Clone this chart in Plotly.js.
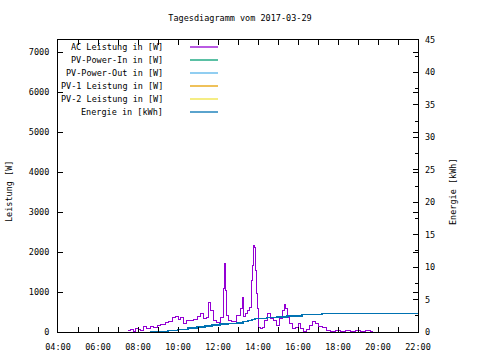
<!DOCTYPE html>
<html><head><meta charset="utf-8">
<script src="https://cdn.plot.ly/plotly-3.0.1.min.js"></script>
<style>body{margin:0;background:#fff}#c{width:480px;height:360px}
#c path.js-line{shape-rendering:crispEdges}</style>
</head><body><div id="c"></div>
<script>
const day = "2017-03-29";
const acTimes = ["07:30","07:36","07:45","07:51","08:00","08:06","08:15","08:24","08:36","08:45","08:57","09:06","09:21","09:30","09:42","09:51","10:00","10:06","10:15","10:24","10:36","10:45","10:57","11:06","11:15","11:24","11:30","11:36","11:45","11:54","12:06","12:15","12:18","12:21","12:24","12:30","12:39","12:54","13:06","13:12","13:15","13:21","13:27","13:33","13:39","13:42","13:45","13:48","13:51","13:54","13:57","14:00","14:06","14:12","14:18","14:27","14:36","14:45","14:54","15:03","15:12","15:18","15:21","15:27","15:33","15:42","15:51","16:00","16:06","16:15","16:24","16:33","16:42","16:51","17:00","17:12","17:24","17:36","17:51","18:06","18:21","18:36","18:51","19:06","19:21","19:36","19:42"];
const acWatts = [50,75,25,100,75,50,150,100,150,125,175,200,250,275,375,400,325,375,225,300,300,325,400,475,350,375,750,550,300,250,375,1100,1725,1050,425,300,275,425,600,875,400,475,550,625,1300,1675,2175,2125,1550,975,600,125,100,125,300,475,350,300,175,350,550,700,600,375,225,100,125,225,100,25,75,175,275,225,150,125,50,25,50,10,50,20,40,10,30,20,0];
const eTimes = ["08:36","09:30","10:00","10:30","10:57","11:21","11:42","12:06","12:30","12:57","13:15","13:30","13:42","13:51","14:27","14:57","15:27","16:12","17:12","22:00"];
const eKWh = [0,0.2,0.4,0.65,0.8,0.95,1.05,1.2,1.3,1.4,1.6,1.8,1.95,2.1,2.2,2.3,2.5,2.67,2.87,2.87];
const legendNames = ["AC Leistung in [W]","PV-Power-In in [W]","PV-Power-Out in [W]","PV-1 Leistung in [W]","PV-2 Leistung in [W]","Energie in [kWh]"];
const legendColors = ["#9400d3","#009e73","#56b4e9","#e69f00","#f0e442","#0072b2"];

const F = {family:"DejaVu Sans Mono, monospace", size:8.5, color:"#000"};
const ts = a => a.map(t => day + " " + t);

const traces = [
  {x: ts(acTimes), y: acWatts, type:"scatter", mode:"lines", line:{color:legendColors[0], width:1, shape:"hv"}, showlegend:false, hoverinfo:"skip"},
  {x: ts(eTimes), y: eKWh, type:"scatter", mode:"lines", yaxis:"y2", line:{color:legendColors[5], width:1.5, shape:"hv"}, showlegend:false, hoverinfo:"skip"}
];

const L = 58, T = 40, W = 360, H = 292;
const ann = [], shp = [];
legendNames.forEach((n,i) => {
  const yp = 47 + i*13;
  const py = (T + H - yp) / H;
  ann.push({xref:"paper", yref:"paper", x:(165-L)/W, y:py, xanchor:"right", yanchor:"middle", text:n, showarrow:false, font:F});
  shp.push({type:"line", xref:"paper", yref:"paper", x0:(190-L)/W, x1:(218-L)/W, y0:py, y1:py, line:{color:legendColors[i], width:1.3}});
});
ann.push({xref:"paper", yref:"paper", x:(9-L)/W, y:(T+H-192)/H, text:"Leistung [W]", textangle:-90, showarrow:false, font:F, xanchor:"center", yanchor:"middle"});
ann.push({xref:"paper", yref:"paper", x:(453-L)/W, y:(T+H-192)/H, text:"Energie [kWh]", textangle:-90, showarrow:false, font:F, xanchor:"center", yanchor:"middle"});

const layout = {
  width:480, height:360,
  margin:{l:L, r:480-L-W, t:T, b:360-T-H},
  paper_bgcolor:"#fff", plot_bgcolor:"#fff",
  font:F,
  title:{text:"Tagesdiagramm vom 2017-03-29", font:F, x:0.5, xref:"container", y:1-18/360, yref:"container", yanchor:"middle"},
  xaxis:{type:"date", range:[day+" 04:00", day+" 22:00"], dtick:7200000, tick0:day+" 00:00", tickformat:"%H:%M",
         ticks:"inside", ticklen:5, tickcolor:"#000", showline:true, linecolor:"#000", linewidth:1, mirror:"allticks",
         showgrid:false, zeroline:false, tickfont:F, ticklabelstandoff:7,
         minor:{dtick:3600000, ticks:"inside", ticklen:3, tickcolor:"#000", showgrid:false}},
  yaxis:{range:[0,7300], dtick:1000, ticks:"inside", ticklen:5, tickcolor:"#000", showline:true, linecolor:"#000", linewidth:1,
         mirror:"allticks", showgrid:false, zeroline:false, tickfont:F, ticklabelstandoff:6},
  yaxis2:{range:[0,45], dtick:5, overlaying:"y", side:"right", ticks:"inside", ticklen:5, tickcolor:"#000",
          showline:false, showgrid:false, zeroline:false, tickfont:F, ticklabelstandoff:6,
          minor:{dtick:2.5, ticks:"inside", ticklen:3, tickcolor:"#000", showgrid:false}},
  annotations: ann,
  shapes: shp,
  showlegend:false
};
Plotly.newPlot("c", traces, layout, {staticPlot:true, displayModeBar:false});
</script></body></html>
